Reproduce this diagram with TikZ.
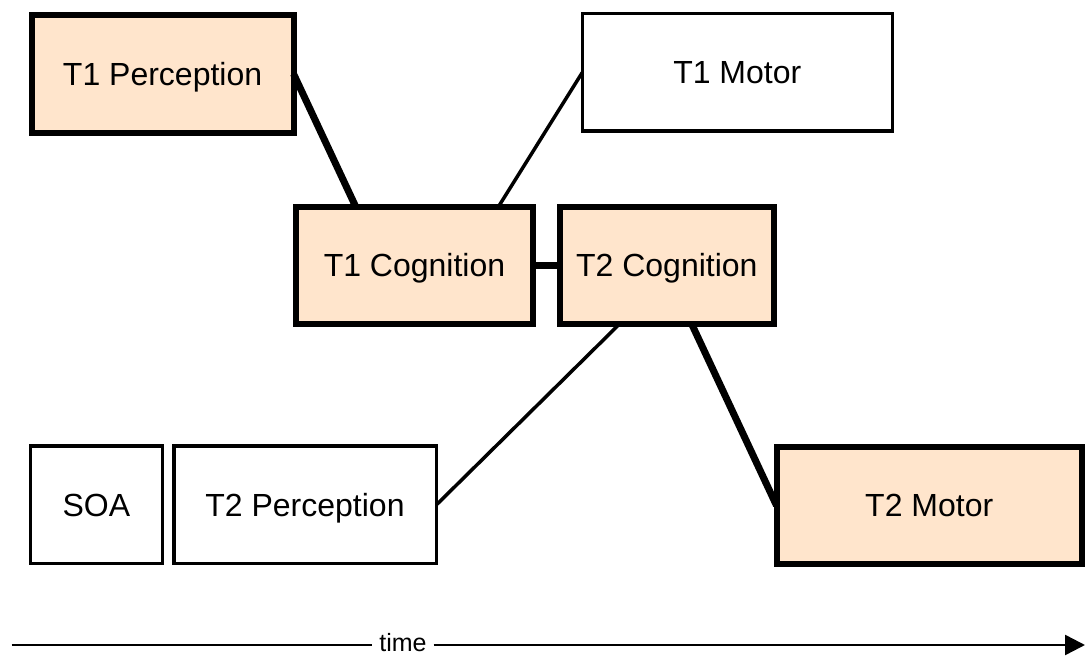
\documentclass[tikz,border=0pt]{standalone}
\usepackage{fontspec}
\setmainfont{Liberation Sans}
\usetikzlibrary{positioning, arrows.meta}
\definecolor{peach}{RGB}{255,229,204}

\begin{document}
\begin{tikzpicture}[x=1pt,y=1pt,
		stage/.style={rectangle,draw,line width=3.5pt,inner sep=0pt,outer sep=0pt,minimum height=117.5pt,text height=23pt,text depth=0pt,font=\fontsize{32}{38}\selectfont},
		busy/.style={stage,fill=peach,line width=6pt},
		thinlink/.style={line width=3.5pt},
		thicklink/.style={line width=7pt}]
			\useasboundingbox (0,0) rectangle (1085,656);
			\node[busy,minimum width=262pt] (t1per) at (162.6,582) {T1 Perception};
			\node[stage,minimum width=310pt] (t1mot) at (737.3,583.5) {T1 Motor};
			\node[busy,minimum width=237pt] (t1cog) at (414.5,390.5) {T1 Cognition};
			\node[busy,minimum width=214.3pt,right=26.7pt of t1cog] (t2cog) {T2 Cognition};
			\node[stage,minimum width=131.8pt] (soa) at (96.35,151) {SOA};
			\node[stage,minimum width=262.5pt,right=11.5pt of soa] (t2per) {T2 Perception};
			\node[busy,minimum width=305.5pt] (t2mot) at (929.25,150.5) {T2 Motor};
			\draw[thicklink] (t1per.east) -- (t1cog.135);
			\draw[thinlink] (t1mot.west) -- (t1cog.35);
			\draw[thicklink] (t1cog) -- (t2cog);
			\draw[thinlink] (t2cog.-129) -- (t2per.east);
			\draw[thicklink] (t2cog.-67) -- (t2mot.west);
			% time axis
			\coordinate (tstart) at (11.5,11);
			\coordinate (tend) at (1085,11);
			\node[inner xsep=7pt,inner ysep=0pt,outer sep=0pt,text height=18pt,text depth=0pt,font=\fontsize{25}{30}\selectfont] (time) at (403,13) {time};
			\draw[line width=2.5pt] (tstart) -- (tstart -| time.west);
			\draw[line width=2.5pt,-{Triangle[length=20pt,width=20pt]}] (tend -| time.east) -- (tend);
		\end{tikzpicture}
\end{document}
